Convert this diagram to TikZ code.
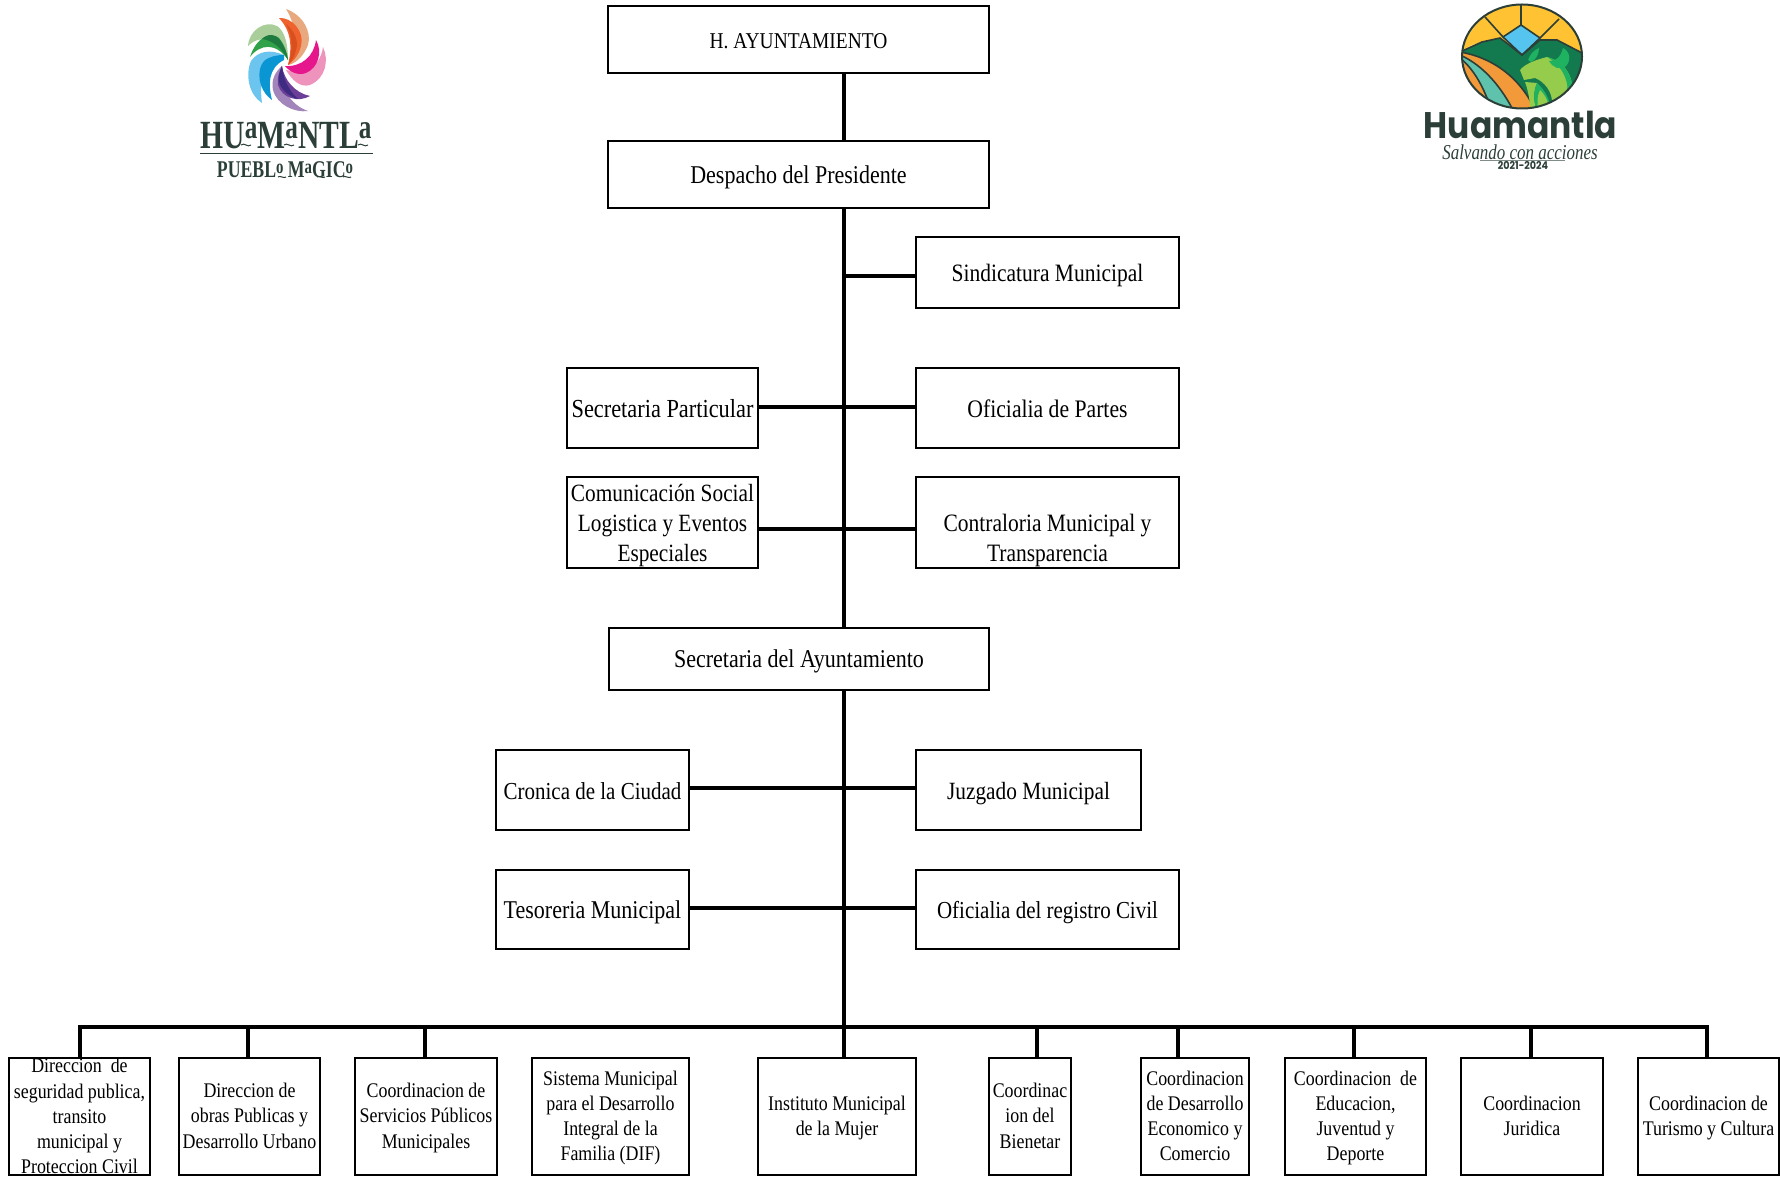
\documentclass[tikz,border=0pt]{standalone}
\usepackage{fontspec}
\setmainfont[FakeStretch=0.86]{Liberation Serif}
\newfontfamily\logoserif[FakeStretch=0.74]{Liberation Serif}
\newfontfamily\logosans[FakeStretch=0.89]{Poppins}
\newfontfamily\logoscript[FakeStretch=0.8]{Liberation Serif}

\definecolor{verdelogo}{HTML}{2B3F38}
\definecolor{salmon}{HTML}{E9A97F}
\definecolor{naranja}{HTML}{F0622D}
\definecolor{naranjaosc}{HTML}{D9501F}
\definecolor{verdeclaro}{HTML}{A9CE9A}
\definecolor{verde}{HTML}{2FA24A}
\definecolor{verdeosc}{HTML}{1E7A3E}
\definecolor{rosa}{HTML}{EE93BC}
\definecolor{magenta1}{HTML}{E6168C}
\definecolor{lilaclaro}{HTML}{A285BB}
\definecolor{lila}{HTML}{6B3F98}
\definecolor{lilaosc}{HTML}{3E2C82}
\definecolor{celeste}{HTML}{6CC5EE}
\definecolor{azul}{HTML}{0A96D2}
\definecolor{amarillo}{HTML}{FFC233}
\definecolor{amarilloclaro}{HTML}{FFD878}
\definecolor{cielo}{HTML}{55C5F0}
\definecolor{monte}{HTML}{127A4E}
\definecolor{campo}{HTML}{F2993A}
\definecolor{agua}{HTML}{5FC2AC}
\definecolor{pasto}{HTML}{95CC4B}
\definecolor{cuerno}{HTML}{1FB260}

\newcommand{\letrita}[3]{\raisebox{#2}{\fontsize{#1}{#1}\selectfont #3}}
\newcommand{\tam}[1]{\fontsize{#1}{15}\selectfont}
\newcommand{\lineas}[2][-4.7pt]{\raisebox{#1}[0pt][0pt]{\begin{tabular}{@{}c@{}}#2\end{tabular}}}

\tikzset{
	caja/.style = {draw, line width = 1.05pt, inner sep = 0pt, outer sep = 0pt, font = \tam{12.8}},
	cajita/.style = {caja, minimum height = 58.5pt, font = \fontsize{10.4}{12.65}\selectfont},
	linea/.style = {line width = 2pt},
	trazo/.style = {verdelogo, line width = 0.8pt},
	ola/.style = {verdelogo, line width = 0.5pt}
}

\begin{document}
\begin{tikzpicture}[x = 0.5pt, y = -0.5pt]
	\useasboundingbox (0,0) rectangle (1780,1176);

	% upper boxes
	\node[caja, minimum width = 190.5pt, minimum height = 33.5pt, font = \tam{11.3}] (ayuntamiento) at (798.5,39.5) {\lineas[-4.4pt]{H. AYUNTAMIENTO}};
	\node[caja, minimum width = 190.5pt, minimum height = 33.5pt] (despacho) at (798.5,174.5) {\lineas[-4.4pt]{Despacho del Presidente}};
	\node[caja, minimum width = 131.5pt, minimum height = 35.5pt, font = \tam{12.5}] (sindicatura) at (1047.5,272.5) {\lineas[-4.4pt]{Sindicatura Municipal}};
	\node[caja, minimum width = 95.5pt, minimum height = 40pt, font = \tam{13}] (particular) at (662.5,408) {\lineas{Secretaria Particular}};
	\node[caja, minimum width = 131.5pt, minimum height = 40pt, font = \tam{12.6}] (partes) at (1047.5,408) {\lineas{Oficialia de Partes}};
	\node[caja, minimum width = 95.5pt, minimum height = 45.5pt, font = \tam{12.4}] (comunicacion) at (662.5,522.5) {\lineas{Comunicación Social\\Logistica y Eventos\\Especiales}};
	\node[caja, minimum width = 131.5pt, minimum height = 45.5pt, font = \tam{12.5}] (contraloria) at (1047.5,522.5) {\lineas[-11.9pt]{Contraloria Municipal y\\Transparencia}};
	\node[caja, minimum width = 190pt, minimum height = 31pt] (secretaria) at (799,659) {\lineas[-4.4pt]{Secretaria del Ayuntamiento}};
	\node[caja, minimum width = 96.5pt, minimum height = 40pt, font = \tam{12.2}] (cronica) at (592.5,790) {\lineas{Cronica de la Ciudad}};
	\node[caja, minimum width = 112.5pt, minimum height = 40pt, font = \tam{12.4}] (juzgado) at (1028.5,790) {\lineas{Juzgado Municipal}};
	\node[caja, minimum width = 96.5pt, minimum height = 39.5pt] (tesoreria) at (592.5,909.5) {\lineas[-4.4pt]{Tesoreria Municipal}};
	\node[caja, minimum width = 131.5pt, minimum height = 39.5pt, font = \tam{12.2}] (registro) at (1047.5,909.5) {\lineas[-4.4pt]{Oficialia del registro Civil}};

	% lower boxes
	\node[cajita, minimum width = 70.5pt] (seguridad) at (79.5,1116.5) {\lineas[-3.4pt]{Direccion\ \ de\\seguridad publica,\\transito\\municipal y\\Proteccion Civil}};
	\node[cajita, minimum width = 70.5pt] (obras) at (249.5,1116.5) {\lineas[-3.2pt]{Direccion de\\obras Publicas y\\Desarrollo Urbano}};
	\node[cajita, minimum width = 71pt] (servicios) at (426,1116.5) {\lineas[-3.2pt]{Coordinacion de\\Servicios Públicos\\Municipales}};
	\node[cajita, minimum width = 78.5pt] (dif) at (610.5,1116.5) {\lineas[-3.2pt]{Sistema Municipal\\para el Desarrollo\\Integral de la\\Familia (DIF)}};
	\node[cajita, minimum width = 79pt] (mujer) at (837,1116.5) {\lineas[-3.2pt]{Instituto Municipal\\de la Mujer}};
	\node[cajita, minimum width = 41pt] (bienetar) at (1030,1116.5) {\lineas[-3.2pt]{Coordinac\\ion del\\Bienetar}};
	\node[cajita, minimum width = 54pt] (economico) at (1195,1116.5) {\lineas[-3.2pt]{Coordinacion\\de Desarrollo\\Economico y\\Comercio}};
	\node[cajita, minimum width = 70.5pt] (educacion) at (1355.5,1116.5) {\lineas[-3.2pt]{Coordinacion\ \ de\\Educacion,\\Juventud y\\Deporte}};
	\node[cajita, minimum width = 71pt] (juridica) at (1532,1116.5) {\lineas[-3.2pt]{Coordinacion\\Juridica}};
	\node[cajita, minimum width = 70.5pt] (turismo) at (1708.5,1116.5) {\lineas[-3.2pt]{Coordinacion de\\Turismo y Cultura}};

	% points of the lines
	\coordinate (tronco) at (843.5,1027);
	\coordinate (bus1) at (80,1027);
	\coordinate (bus2) at (248,1027);
	\coordinate (bus3) at (425,1027);
	\coordinate (bus6) at (1036.5,1027);
	\coordinate (bus7) at (1178,1027);
	\coordinate (bus8) at (1354,1027);
	\coordinate (bus9) at (1531,1027);
	\coordinate (bus10) at (1707,1027);
	\coordinate (fila1) at (843.5,276);
	\coordinate (fila2) at (843.5,406.5);
	\coordinate (fila3) at (843.5,528.5);
	\coordinate (fila4) at (843.5,788);
	\coordinate (fila5) at (843.5,908);

	\draw[linea] (tronco |- ayuntamiento.south) -- (tronco |- despacho.north);
	\draw[linea] (tronco |- despacho.south) -- (tronco |- secretaria.north);
	\draw[linea] (tronco |- secretaria.south) -- (tronco |- mujer.north);
	\draw[linea] (fila1) -- (fila1 -| sindicatura.west);
	\draw[linea] (fila2 -| particular.east) -- (fila2 -| partes.west);
	\draw[linea] (fila3 -| comunicacion.east) -- (fila3 -| contraloria.west);
	\draw[linea] (fila4 -| cronica.east) -- (fila4 -| juzgado.west);
	\draw[linea] (fila5 -| tesoreria.east) -- (fila5 -| registro.west);
	\draw[linea, line cap = rect] (bus1) -- (bus10);
	\draw[linea] (bus1) -- (bus1 |- seguridad.north);
	\draw[linea] (bus2) -- (bus2 |- obras.north);
	\draw[linea] (bus3) -- (bus3 |- servicios.north);
	\draw[linea] (bus6) -- (bus6 |- bienetar.north);
	\draw[linea] (bus7) -- (bus7 |- economico.north);
	\draw[linea] (bus8) -- (bus8 |- educacion.north);
	\draw[linea] (bus9) -- (bus9 |- juridica.north);
	\draw[linea] (bus10) -- (bus10 |- turismo.north);

	% left logo
	\fill[salmon] (286,9) .. controls (303,15) and (312,32) .. (308,45) .. controls (304,55) and (298,62) .. (289,65) .. controls (296,50) and (298,28) .. (286,9);
	\fill[naranja] (279,18) .. controls (292,17) and (305,32) .. (301,46) .. controls (299,54) and (295,60) .. (288,65) .. controls (292,48) and (292,32) .. (279,18);
	\fill[naranjaosc] (286,24) .. controls (295,31) and (299,42) .. (296,50) .. controls (295,56) and (292,61) .. (288,65) .. controls (293,52) and (293,36) .. (286,24);
	\fill[verdeclaro] (248,46) .. controls (249,30) and (265,20) .. (277,26) .. controls (285,31) and (288,45) .. (288,60) .. controls (280,42) and (262,32) .. (248,46);
	\fill[verde] (250,57) .. controls (256,38) and (270,31) .. (279,38) .. controls (284,44) and (287,52) .. (288,60) .. controls (276,42) and (260,44) .. (250,57);
	\fill[verdeosc] (262,39) .. controls (268,33) and (276,34) .. (280,40) .. controls (284,45) and (287,53) .. (288,60) .. controls (282,48) and (272,40) .. (262,39);
	\fill[rosa] (323,47) .. controls (329,60) and (326,78) .. (310,85) .. controls (300,88) and (292,80) .. (286,70) .. controls (300,74) and (320,70) .. (323,47);
	\fill[magenta1] (316,40) .. controls (323,52) and (318,68) .. (306,73) .. controls (298,76) and (290,72) .. (285,66) .. controls (302,67) and (314,56) .. (316,40);
	\fill[lilaclaro] (308,111) .. controls (295,113) and (277,105) .. (273,90) .. controls (271,80) and (275,72) .. (282,66) .. controls (278,85) and (290,105) .. (308,111);
	\fill[lila] (310,96) .. controls (298,103) and (282,98) .. (278,85) .. controls (277,78) and (279,72) .. (282,66) .. controls (284,80) and (295,93) .. (310,96);
	\fill[lilaosc] (298,99) .. controls (290,97) and (281,90) .. (279,82) .. controls (278,76) and (280,71) .. (282,66) .. controls (283,78) and (288,90) .. (298,99);
	\fill[celeste] (262,103) .. controls (249,95) and (245,75) .. (251,61) .. controls (258,51) and (270,49) .. (284,55) .. controls (268,57) and (258,75) .. (262,103);
	\fill[azul] (272,100) .. controls (258,90) and (256,70) .. (264,61) .. controls (270,56) and (278,55) .. (284,55) -- (284,60) .. controls (268,68) and (268,85) .. (272,100);
	\node[verdelogo, inner sep = 0pt, font = \logoserif\bfseries\fontsize{20}{20}\selectfont] (nombreuno) at (286,136) {HU\letrita{17}{5pt}{a}M\letrita{17}{5pt}{a}NTL\letrita{17}{5pt}{a}};
	\draw[ola] (241,145) .. controls (244,142) and (248,148) .. (251,145);
	\draw[ola] (284,145) .. controls (287,142) and (291,148) .. (294,145);
	\draw[ola] (358,145) .. controls (361,142) and (365,148) .. (368,145);
	\draw[verdelogo, line width = 0.6pt] (200,153.5) -- (373,153.5);
	\node[verdelogo, inner sep = 0pt, font = \logoserif\bfseries\fontsize{12}{12}\selectfont] (pueblo) at (285,170) {PUEBL\letrita{10}{2pt}{o} M\letrita{10}{2pt}{a}GIC\letrita{10}{2pt}{o}};
	\draw[ola] (278,177) .. controls (280,175) and (284,179) .. (286,177);
	\draw[ola] (317,177) .. controls (319,175) and (323,179) .. (325,177);
	\draw[ola] (343,177) .. controls (345,175) and (349,179) .. (351,177);

	% right logo
	\begin{scope}
		\clip (1522,56.5) ellipse [x radius = 60, y radius = 52];
		\fill[amarillo] (1462,4) rectangle (1582,109);
		\fill[amarilloclaro] (1460,30) -- (1483,15) -- (1465,40) -- (1463,50) -- (1475,43) -- (1460,55) -- cycle;
		\fill[monte] (1460,52) -- (1482,42) -- (1500,38) -- (1522,55) -- (1540,40) -- (1557,40) -- (1584,54) -- (1584,110) -- (1460,110) -- cycle;
		\fill[campo] (1460,52) .. controls (1495,58) and (1522,80) .. (1536,112) -- (1460,112) -- cycle;
		\fill[agua] (1460,55) .. controls (1485,66) and (1503,90) .. (1514,112) -- (1492,112) .. controls (1485,90) and (1475,70) .. (1460,58) -- cycle;
		\draw[trazo] (1460,52) .. controls (1495,58) and (1522,80) .. (1536,112);
		\draw[trazo] (1460,55) .. controls (1485,66) and (1503,90) .. (1514,112);
		\draw[trazo] (1460,58) .. controls (1475,70) and (1485,90) .. (1492,112);
		\fill[pasto] (1520,70) .. controls (1525,64) and (1535,60) .. (1547,57) .. controls (1558,60) and (1570,68) .. (1572,85) .. controls (1574,95) and (1566,102) .. (1556,108) -- (1552,102) .. controls (1552,92) and (1545,82) .. (1535,78) -- (1524,80) -- cycle;
		\fill[cuerno] (1547,57) .. controls (1558,60) and (1570,68) .. (1572,85) .. controls (1574,95) and (1566,102) .. (1556,108) -- (1553,106) .. controls (1565,98) and (1570,90) .. (1566,80) .. controls (1563,70) and (1556,62) .. (1547,57);
		\fill[pasto] (1525,82) -- (1537,83) .. controls (1533,92) and (1534,100) .. (1536,110) -- (1530,110) .. controls (1530,100) and (1528,90) .. (1525,82);
		\fill[cuerno] (1537,83) .. controls (1545,90) and (1550,100) .. (1551,110) -- (1536,110) .. controls (1534,100) and (1533,92) .. (1537,83);
		\fill[pasto] (1540,90) .. controls (1546,96) and (1549,103) .. (1549,110) -- (1538,110) .. controls (1537,103) and (1537,96) .. (1540,90);
		\fill[cuerno] (1528,60) .. controls (1530,54) and (1534,50) .. (1539,48) .. controls (1539,54) and (1536,60) .. (1531,62) -- cycle;
		\fill[cuerno] (1549,61) .. controls (1556,62) and (1561,56) .. (1563,48) .. controls (1571,52) and (1571,62) .. (1565,67) .. controls (1560,70) and (1553,68) .. (1549,61);
		\fill[cielo] (1521,25) -- (1540,38) -- (1522,55) -- (1503,37) -- cycle;
		\draw[trazo] (1521,5) -- (1521,25) -- (1540,38) -- (1522,55) -- (1503,37) -- (1521,25);
		\draw[trazo] (1503,37) -- (1485,17);
		\draw[trazo] (1540,38) -- (1559,19);
		\draw[trazo] (1460,52) -- (1482,42) -- (1500,38) -- (1522,55) -- (1540,40) -- (1557,40) -- (1584,54);
	\end{scope}
	\draw[trazo, line width = 1pt] (1522,56.5) ellipse [x radius = 60, y radius = 52];
	\node[verdelogo, inner sep = 0pt, font = \logosans\bfseries\fontsize{18.5}{20}\selectfont] (nombredos) at (1520.5,125) {Huamantla};
	\node[verdelogo, inner sep = 0pt, font = \logoscript\itshape\fontsize{10.6}{11}\selectfont] (lema) at (1520,152) {Salvando con acciones};
	\draw[verdelogo!60, line width = 0.3pt] (1480,160.5) -- (1565,160.5);
	\node[verdelogo, inner sep = 0pt, font = \logosans\bfseries\fontsize{5.4}{5.5}\selectfont] (anios) at (1523,165.5) {2021-2024};
\end{tikzpicture}
\end{document}
